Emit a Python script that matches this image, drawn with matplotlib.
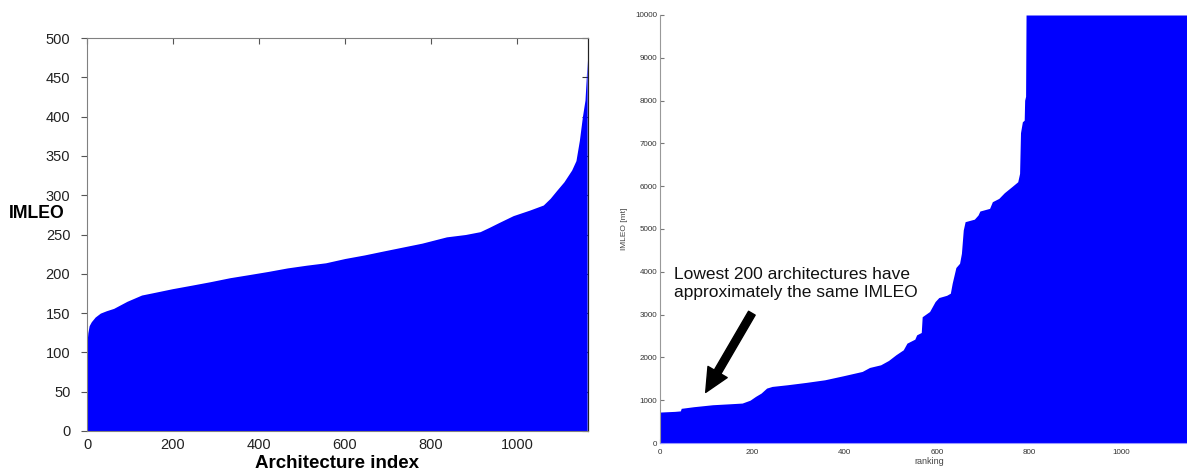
import matplotlib
matplotlib.use("Agg")
import matplotlib.pyplot as plt
import numpy as np

plt.rcParams['font.family'] = ['Liberation Sans', 'DejaVu Sans']

# ---------------- data ----------------
# Left panel: sorted IMLEO per architecture (read at knot indices)
left_index = [0, 2, 5, 10, 19, 31, 45, 62, 93, 127, 154, 198, 243, 287, 332,
              377, 421, 466, 511, 555, 600, 645, 689, 734, 779, 836, 880, 914,
              935, 957, 991, 1029, 1061, 1077, 1092, 1109, 1127, 1137, 1145,
              1152, 1158, 1161, 1163]
left_imleo = [112, 125, 134, 139, 145, 150, 153, 156, 165, 173, 176, 181, 185.5,
              190, 195, 199, 203, 207.5, 211, 214, 219.5, 224, 229, 234, 239,
              247, 250, 253.6, 259, 265, 274, 281, 287.5, 296, 306, 317, 332,
              344, 370, 400, 421, 450, 472]

# Right panel: IMLEO [mt] vs ranking
right_rank = [0, 32, 44, 46, 73, 114, 154, 178, 195, 207, 219, 231, 243, 276,
              316, 357, 397, 438, 454, 478, 495, 511, 527, 535, 552, 556, 566,
              568, 584, 596, 604, 621, 629, 633, 641, 649, 653, 657, 661, 681,
              689, 693, 714, 720, 734, 746, 762, 775, 779, 781, 785, 789, 790,
              792, 793, 1165]
right_imleo = [723, 739, 750, 810, 848, 894, 918, 933, 1000, 1089, 1166, 1283,
               1322, 1361, 1415, 1477, 1571, 1672, 1765, 1827, 1928, 2061, 2177,
               2333, 2426, 2527, 2582, 2950, 3072, 3305, 3398, 3451, 3500, 3733,
               4100, 4199, 4432, 4977, 5171, 5230, 5327, 5420, 5482, 5638, 5715,
               5848, 5988, 6104, 6299, 7250, 7504, 7543, 8009, 8100, 10000, 10000]

left_yticks = [0, 50, 100, 150, 200, 250, 300, 350, 400, 450, 500]
left_xticks = [0, 200, 400, 600, 800, 1000]
right_yticks = [0, 1000, 2000, 3000, 4000, 5000, 6000, 7000, 8000, 9000, 10000]
right_xticks = [0, 200, 400, 600, 800, 1000]

annotation_text = "Lowest 200 architectures have\napproximately the same IMLEO"

BLUE = '#0000FF'

fig = plt.figure(figsize=(11.87, 4.74), dpi=100)

# ---------------- left panel ----------------
ax1 = fig.add_axes([87/1187, 1-431/474, (588-87)/1187, (431-38)/474])
ax1.fill_between(left_index, left_imleo, 0, color=BLUE, lw=0, zorder=2)
ax1.set_xlim(0, 1165)
ax1.set_ylim(0, 500)
ax1.set_yticks(left_yticks)
ax1.set_xticks(left_xticks)
ax1.tick_params(axis='both', labelsize=10.5, labelcolor='#222222', color='#555555')
ax1.tick_params(axis='y', direction='out', length=4, pad=8, right=False)
ax1.tick_params(axis='x', direction='in', length=4, pad=5, top=True, bottom=False)
for s in ['left', 'top', 'bottom']:
    ax1.spines[s].set_color('#808080')
ax1.spines['right'].set_color('#222222')
ax1.set_axisbelow(True)
ax1.set_xlabel('Architecture index', fontsize=13.5, fontweight='bold', labelpad=2)
fig.text(37/1187, 1-213/474, 'IMLEO', ha='center', va='center',
         fontsize=12.7, fontweight='bold')

# right-side inward ticks (MATLAB box style)
sec = ax1.secondary_yaxis('right')
sec.set_yticks(left_yticks)
sec.tick_params(direction='in', length=4, labelright=False, color='#333333')
sec.spines['right'].set_color('#222222')

# ---------------- right panel ----------------
ax2 = fig.add_axes([660/1187, 1-443/474, 1165*0.4616/1187, (443-15)/474])
ax2.fill_between(right_rank, right_imleo, 0, color=BLUE, lw=0, zorder=2)
ax2.set_xlim(0, 1165)
ax2.set_ylim(0, 10000)
ax2.set_yticks(right_yticks)
ax2.set_xticks(right_xticks)
ax2.tick_params(axis='both', labelsize=5.8, labelcolor='#333333', color='#777777',
                direction='in', length=3)
ax2.tick_params(axis='y', pad=2)
ax2.tick_params(axis='x', pad=4)
ax2.spines['top'].set_visible(False)
ax2.spines['right'].set_visible(False)
ax2.spines['left'].set_color('#999999')
ax2.spines['bottom'].set_color('#9999ff')
ax2.set_xlabel('ranking', fontsize=6.5, color='#444444', labelpad=1)
ax2.set_ylabel('IMLEO [mt]', fontsize=6, color='#444444', labelpad=5)

ax2.text(30, 4121, annotation_text, ha='left', va='top', fontsize=12.5,
         color='#111111', linespacing=1.3)
ax2.annotate('', xy=(99, 1182), xytext=(199, 3033),
             arrowprops=dict(facecolor='black', edgecolor='black', width=5.5,
                             headwidth=16, headlength=17, shrink=0))

fig.savefig('out.png', dpi=100)
